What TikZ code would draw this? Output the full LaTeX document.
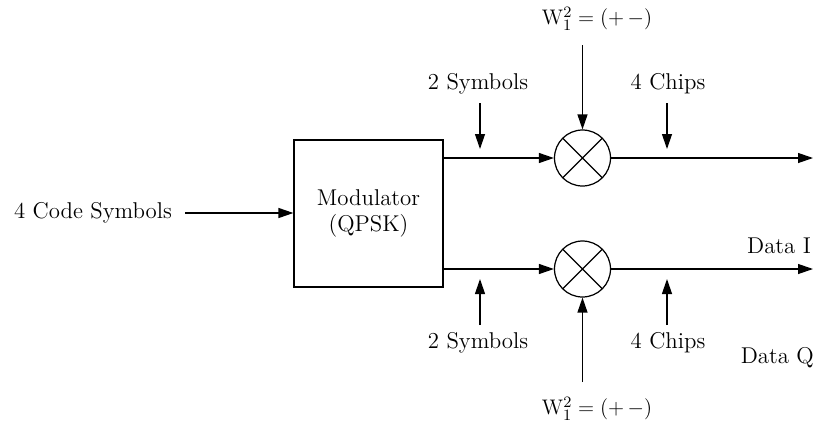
\documentclass[tikz,border=0pt]{standalone}
\usepackage{amsmath}
\usepackage{tikz}
\usetikzlibrary{positioning, arrows.meta, calc}

\begin{document}
\begin{tikzpicture}[
        x=0.02cm, y=-0.02cm,
        font=\fontsize{13}{15}\selectfont,
        block/.style={draw, rectangle, align=center, minimum width=2.98cm, minimum height=2.94cm, line width=0.7pt},
        mixer/.style={draw, circle, minimum size=1.12cm, inner sep=0pt, line width=0.7pt,
            path picture={\draw[line width=0.7pt] (path picture bounding box.north west) -- (path picture bounding box.south east)
                (path picture bounding box.north east) -- (path picture bounding box.south west);}},
        arrow/.style={-{Triangle[length=0.3cm, width=0.2cm]}, line width=0.7pt},
        lbl/.style={inner sep=1pt}
    ]
    \useasboundingbox (0,0) rectangle (819,427);

    % Modulator and the two mixers
    \node[block] (mod) at (368.5,213.5) {Modulator\\(QPSK)};
    \node[mixer] (mixI) at (582.5,158) {};
    \node[mixer] (mixQ) at (582.5,269) {};

    % Input
    \node[lbl] (in) at (93,213) {4 Code Symbols};
    \coordinate (inA) at (185,213);
    \draw [arrow] (inA) -- (inA -| mod.west);

    % Branches from the modulator
    \coordinate (modI) at (mod.east |- mixI);
    \coordinate (modQ) at (mod.east |- mixQ);
    \draw [arrow] (modI) -- (mixI.west);
    \draw [arrow] (modQ) -- (mixQ.west);

    % Outputs
    \coordinate (outI) at (813,158);
    \coordinate (outQ) at (813,269);
    \draw [arrow] (mixI.east) -- (outI);
    \draw [arrow] (mixQ.east) -- (outQ);
    \node[lbl, anchor=east] (dataI) at (813,246) {Data I};
    \node[lbl, anchor=east] (dataQ) at (816,358) {Data Q};

    % Walsh codes
    \node[lbl] (wI) at (597,19) {$\mathrm{W}_1^2 = (+\,-)$};
    \node[lbl] (wQ) at (597,409) {$\mathrm{W}_1^2 = (+\,-)$};
    \coordinate (wIa) at (582.5,45);
    \coordinate (wQa) at (582.5,382);
    \draw [arrow] (wIa) -- (mixI.north);
    \draw [arrow] (wQa) -- (mixQ.south);

    % Rate markers, top
    \node[lbl] (symI) at (478,84) {2 Symbols};
    \node[lbl] (chipI) at (668,84) {4 Chips};
    \coordinate (symIa) at (480,103);
    \coordinate (chipIa) at (667,103);
    \draw [arrow] (symIa) -- ++(0,46);
    \draw [arrow] (chipIa) -- ++(0,46);

    % Rate markers, bottom
    \node[lbl] (symQ) at (478,343) {2 Symbols};
    \node[lbl] (chipQ) at (668,343) {4 Chips};
    \coordinate (symQa) at (480,325);
    \coordinate (chipQa) at (667,325);
    \draw [arrow] (symQa) -- ++(0,-46);
    \draw [arrow] (chipQa) -- ++(0,-46);

\end{tikzpicture}
\end{document}
